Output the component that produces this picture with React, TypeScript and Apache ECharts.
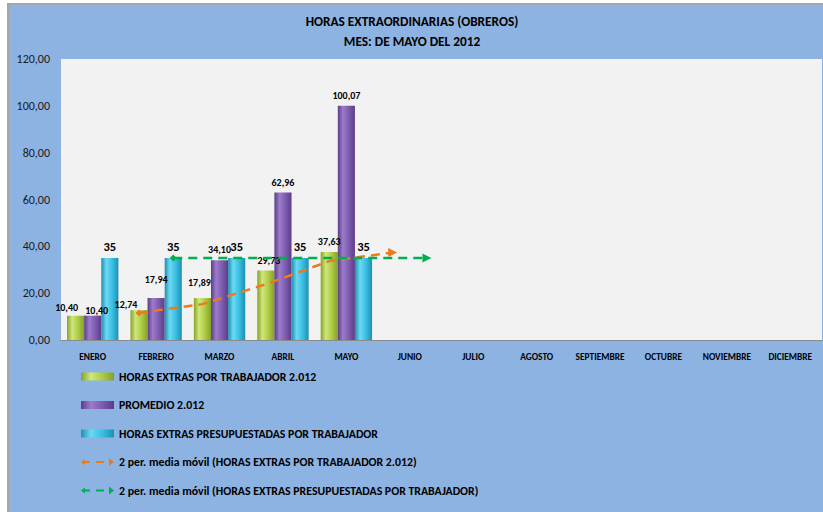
import React, { useEffect, useRef } from "react";
import * as echarts from "echarts";

const months = ["ENERO", "FEBRERO", "MARZO", "ABRIL", "MAYO", "JUNIO", "JULIO", "AGOSTO", "SEPTIEMBRE", "OCTUBRE", "NOVIEMBRE", "DICIEMBRE"];
const horasExtras = [10.40, 12.74, 17.89, 29.73, 37.63];
const promedio = [10.40, 17.94, 34.10, 62.96, 100.07];
const presupuestadas = [35, 35, 35, 35, 35];
// 2-period moving averages (month index, value)
const maHorasMonths = [1, 2, 3, 4, 5];
const maHorasValues = [11.57, 15.32, 23.81, 33.68, 37.4];
const maPresMonths = [1, 2, 3, 4, 5];
const maPresValues = [35, 35, 35, 35, 35];
const yTicks = { min: 0, max: 120, interval: 20 };

const seriesNames = [
  "HORAS EXTRAS POR TRABAJADOR 2.012",
  "PROMEDIO 2.012",
  "HORAS EXTRAS PRESUPUESTADAS POR TRABAJADOR",
  "2 per. media móvil (HORAS EXTRAS POR TRABAJADOR 2.012)",
  "2 per. media móvil (HORAS EXTRAS PRESUPUESTADAS POR TRABAJADOR)",
];

const FONT = "Carlito, Lato, sans-serif";
const BAR_FRAC = 0.27;

const greenLabelOffsets = [[-9, 2], [-13, 4], [-3, -6], [3, 0], [0, 0]];
const purpleLabelOffsets = [[4, 5], [0, -8], [0, -1], [0, 0], [0, 0]];

const fmt = (v: number) => v.toFixed(2).replace(".", ",");

const grad = (edge: string, light: string, mid: string) =>
  new echarts.graphic.LinearGradient(0, 0, 1, 0, [
    { offset: 0, color: edge },
    { offset: 0.3, color: light },
    { offset: 0.65, color: mid },
    { offset: 1, color: edge },
  ]);

const ORANGE = "#EE7A1E";
const GREEN = "#00B050";
const arrowIcon = "path://M0,4.5 L4,1.5 L4,3.6 L9,3.6 L9,5.4 L4,5.4 L4,7.5 Z M15,3.6 L23,3.6 L23,5.4 L15,5.4 Z M28,0.5 L33,4.5 L28,8.5 Z";

export default function App() {
  const ref = useRef<HTMLDivElement>(null);
  useEffect(() => {
    if (!ref.current) return;
    const chart = echarts.init(ref.current, undefined, { renderer: "svg" });
    const greenC = grad("#84A226", "#CFE77A", "#ADCB44");
    const purpleC = grad("#5B3D86", "#9C7BCB", "#7D5BAE");
    const cyanC = grad("#1E8FB0", "#6DD9F3", "#38BEE2");

    const lineData = (idx: number[], vals: number[], side: number) =>
      idx.map((m, i) => {
        const item: any = { value: [m + 0.5 + side * BAR_FRAC, vals[i]] };
        if (i === 0) {
          item.symbol = "diamond";
          item.symbolSize = 7;
        } else if (i === idx.length - 1) {
          item.symbol = "triangle";
          item.symbolSize = [9, 9];
          item.symbolRotate = -90;
        }
        return item;
      });

    const barLabel = (size: number, f: (p: any) => string) => ({
      show: true, position: "top", distance: 5, fontSize: size, fontWeight: "bold", color: "#000", formatter: f, fontFamily: FONT,
    });

    chart.setOption({
      animation: false,
      backgroundColor: "#8DB3E2",
      textStyle: { fontFamily: FONT },
      title: {
        text: "HORAS EXTRAORDINARIAS (OBREROS)\nMES: DE MAYO DEL 2012",
        left: 403,
        textAlign: "center",
        top: 6,
        padding: 0,
        textStyle: { fontSize: 13.3, fontWeight: "bold", color: "#000", lineHeight: 20, fontFamily: FONT },
      },
      grid: { left: 52, top: 54, right: 1, bottom: 172, show: true, backgroundColor: "#F2F2F2", borderWidth: 0 },
      legend: {
        orient: "vertical",
        left: 72,
        top: 364.5,
        padding: 0,
        itemGap: 14.5,
        itemWidth: 33,
        itemHeight: 8,
        symbolKeepAspect: false,
        selectedMode: false,
        textStyle: { fontSize: 11.8, fontWeight: "bold", color: "#000", lineHeight: 14, fontFamily: FONT },
        data: [
          { name: seriesNames[0], icon: "rect" },
          { name: seriesNames[1], icon: "rect" },
          { name: seriesNames[2], icon: "rect" },
          { name: seriesNames[3], icon: arrowIcon, itemStyle: { color: ORANGE, borderWidth: 0 } },
          { name: seriesNames[4], icon: arrowIcon, itemStyle: { color: GREEN, borderWidth: 0 } },
        ],
      },
      xAxis: [
        {
          type: "category",
          data: months,
          axisLine: { show: true, lineStyle: { color: "#8C8C8C", width: 1 } },
          axisTick: { show: false },
          axisLabel: { fontSize: 9.4, fontWeight: "bold", color: "#000", margin: 12, interval: 0, fontFamily: FONT },
        },
        { type: "value", min: 0, max: months.length, show: false },
      ],
      yAxis: {
        type: "value",
        min: yTicks.min,
        max: yTicks.max,
        interval: yTicks.interval,
        splitLine: { show: false },
        axisLine: { show: false },
        axisTick: { show: false },
        axisLabel: { fontSize: 12, color: "#1A1A1A", margin: 11, formatter: (v: number) => fmt(v), fontFamily: FONT },
      },
      series: [
        {
          name: seriesNames[0],
          type: "bar",
          barWidth: BAR_FRAC * 100 + "%",
          barGap: "0%",
          itemStyle: { color: greenC },
          data: horasExtras.map((v, i) => ({ value: v, label: { offset: greenLabelOffsets[i] } })),
          label: barLabel(10, (p: any) => fmt(p.value)),
        },
        {
          name: seriesNames[1],
          type: "bar",
          barWidth: BAR_FRAC * 100 + "%",
          barGap: "0%",
          itemStyle: { color: purpleC },
          data: promedio.map((v, i) => ({ value: v, label: { offset: purpleLabelOffsets[i] } })),
          label: barLabel(10, (p: any) => fmt(p.value)),
        },
        {
          name: seriesNames[2],
          type: "bar",
          barWidth: BAR_FRAC * 100 + "%",
          barGap: "0%",
          itemStyle: { color: cyanC },
          data: presupuestadas,
          label: barLabel(12.5, (p: any) => String(Math.round(p.value))),
        },
        {
          name: seriesNames[3],
          type: "line",
          xAxisIndex: 1,
          z: 5,
          symbol: "none",
          showAllSymbol: true,
          itemStyle: { color: ORANGE },
          lineStyle: { color: ORANGE, width: 2.5, type: [9, 6] },
          data: lineData(maHorasMonths, maHorasValues, -1),
        },
        {
          name: seriesNames[4],
          type: "line",
          xAxisIndex: 1,
          z: 5,
          symbol: "none",
          showAllSymbol: true,
          itemStyle: { color: GREEN },
          lineStyle: { color: GREEN, width: 2.5, type: [9, 6] },
          data: lineData(maPresMonths, maPresValues, 1),
        },
      ],
    });
    return () => chart.dispose();
  }, []);

  return (
    <div style={{ position: "absolute", left: 7, top: 3, width: 816, height: 509, borderTop: "2px solid #A6A6A6", borderLeft: "2px solid #A6A6A6", boxSizing: "border-box" }}>
      <div ref={ref} style={{ width: 814, height: 507 }} />
    </div>
  );
}
